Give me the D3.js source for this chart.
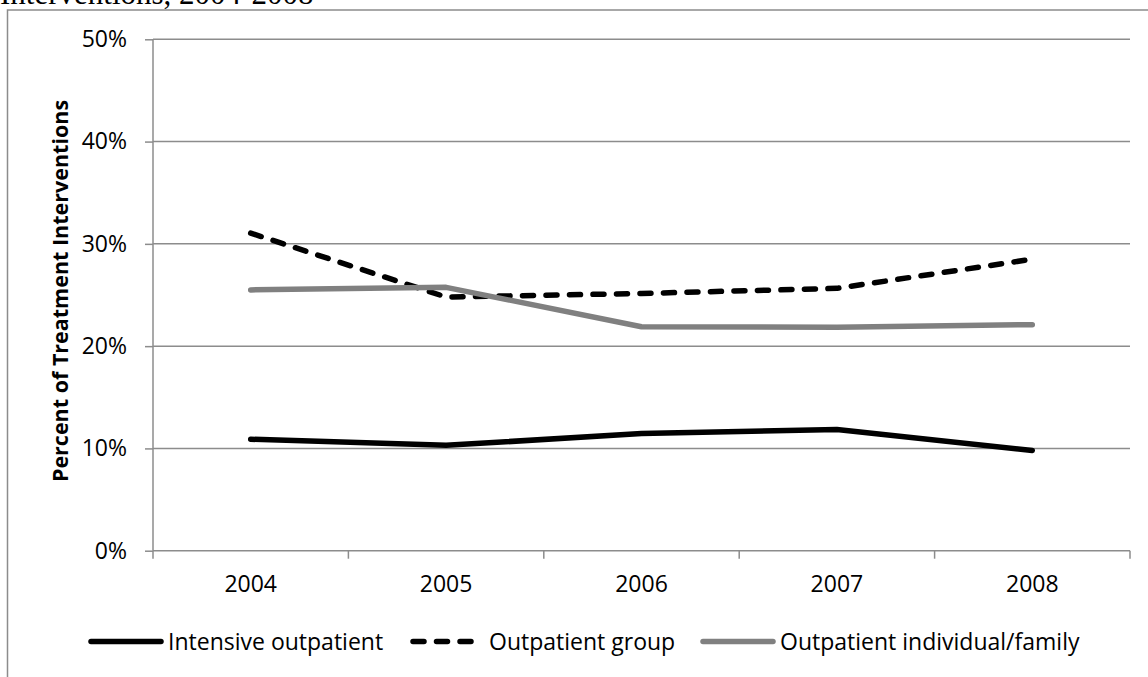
<!DOCTYPE html>
<html><head><meta charset="utf-8">
<script src="https://cdn.jsdelivr.net/npm/d3@7"></script>
<style>body{margin:0;background:#fff;} svg{display:block;}</style>
</head><body>
<svg id="chart" width="1148" height="677"></svg>
<script>
const years = ["2004","2005","2006","2007","2008"];
const intensiveOutpatient = [10.9, 10.3, 11.45, 11.85, 9.8];
const outpatientGroup = [31.05, 24.8, 25.15, 25.65, 28.5];
const outpatientIndividual = [25.5, 25.75, 21.9, 21.85, 22.1];
const yTicks = [0, 10, 20, 30, 40, 50];
const seriesNames = ["Intensive outpatient", "Outpatient group", "Outpatient individual/family"];

(function () {
const series = [
  {name: seriesNames[0], values: intensiveOutpatient, color: "#000000", dash: null},
  {name: seriesNames[1], values: outpatientGroup, color: "#000000", dash: "11,12.5"},
  {name: seriesNames[2], values: outpatientIndividual, color: "#808080", dash: null}
];

const svg = d3.select("#chart");
const font = "Open Sans, Lato, sans-serif";
const fs = 23;
const gridColor = "#8c8c8c";

// cut-off title and frame
svg.append("text").attr("x", 0).attr("y", 4).attr("font-family", "Liberation Serif, Times New Roman, serif")
  .attr("font-size", 31).attr("fill", "#000").text("Interventions, 2004-2008");
svg.append("path").attr("d", "M7.5,690 V10 H1160").attr("fill", "none").attr("stroke", gridColor).attr("stroke-width", 1.5);

const pLeft = 153, pRight = 1130, pTop = 39.3, pBottom = 550.7;
const x = d3.scaleBand().domain(years).range([pLeft, pRight]);
const y = d3.scaleLinear().domain([0, 50]).range([pBottom, pTop]);

// gridlines
svg.append("g").selectAll("line").data(yTicks.filter(d => d > 0)).join("line")
  .attr("x1", pLeft).attr("x2", pRight).attr("y1", d => y(d)).attr("y2", d => y(d))
  .attr("stroke", gridColor).attr("stroke-width", 1.5);

// y axis
const yAxis = svg.append("g").attr("transform", `translate(${pLeft},0)`)
  .call(d3.axisLeft(y).tickValues(yTicks).tickFormat(d => d + "%").tickSize(8).tickPadding(18));
yAxis.select(".domain").attr("stroke", gridColor).attr("stroke-width", 1.5).attr("d", `M0,${pTop}V${pBottom}`);
yAxis.selectAll(".tick line").attr("stroke", gridColor).attr("stroke-width", 1.5);
yAxis.selectAll("text").attr("font-family", font).attr("font-size", fs).attr("fill", "#000");

// x axis
const xAxis = svg.append("g").attr("transform", `translate(0,${pBottom})`)
  .call(d3.axisBottom(x).tickSize(0).tickPadding(25));
xAxis.select(".domain").attr("stroke", gridColor).attr("stroke-width", 1.5).attr("d", `M${pLeft},0H${pRight}`);
xAxis.selectAll("text").attr("font-family", font).attr("font-size", fs).attr("fill", "#000");
// category boundary ticks
svg.append("g").selectAll("line").data(years.concat(["end"])).join("line")
  .attr("x1", (d, i) => pLeft + i * x.step()).attr("x2", (d, i) => pLeft + i * x.step())
  .attr("y1", pBottom).attr("y2", pBottom + 8).attr("stroke", gridColor).attr("stroke-width", 1.5);

// y title
svg.append("text").attr("transform", `translate(68,291) rotate(-90)`)
  .attr("text-anchor", "middle").attr("font-family", font).attr("font-size", 21.5).attr("font-weight", "bold")
  .attr("fill", "#000").text("Percent of Treatment Interventions");

// lines
const line = d3.line().x((d, i) => x(years[i]) + x.bandwidth() / 2).y(d => y(d));
svg.append("g").selectAll("path").data(series).join("path")
  .attr("d", d => line(d.values)).attr("fill", "none").attr("stroke", d => d.color)
  .attr("stroke-width", 5.5).attr("stroke-linecap", "round").attr("stroke-linejoin", "round")
  .attr("stroke-dasharray", d => d.dash);

// legend
const legendX = [91, 413, 703];
const legY = 641.5;
const lg = svg.append("g").selectAll("g").data(series).join("g")
  .attr("transform", (d, i) => `translate(${legendX[i]},${legY})`);
lg.append("line").attr("x1", 0).attr("x2", (d, i) => i === 1 ? 62 : 70).attr("y1", 0).attr("y2", 0)
  .attr("stroke", d => d.color).attr("stroke-width", 5.5).attr("stroke-linecap", "round")
  .attr("stroke-dasharray", d => d.dash ? "11,12.5" : null);
lg.append("text").attr("x", (d, i) => i === 1 ? 76 : 77).attr("y", 0).attr("dy", "0.35em")
  .attr("font-family", font).attr("font-size", fs).attr("fill", "#000").text(d => d.name);
})();
</script>
</body></html>
